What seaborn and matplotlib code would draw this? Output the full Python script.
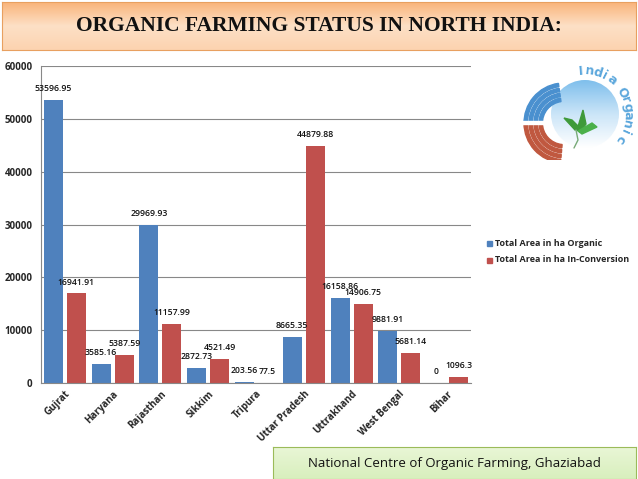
import matplotlib
matplotlib.use("Agg")
import matplotlib.pyplot as plt
import seaborn as sns
import pandas as pd
import numpy as np
from matplotlib.patches import Circle, Wedge, Rectangle, Polygon
from matplotlib.colors import LinearSegmentedColormap

states = ["Gujrat", "Haryana", "Rajasthan", "Sikkim", "Tripura",
          "Uttar Pradesh", "Uttrakhand", "West Bengal", "Bihar"]
organic = [53596.95, 3585.16, 29969.93, 2872.73, 203.56, 8665.35, 16158.86, 9881.91, 0]
conversion = [16941.91, 5387.59, 11157.99, 4521.49, 77.5, 44879.88, 14906.75, 5681.14, 1096.3]
organic_lbl = ["53596.95", "3585.16", "29969.93", "2872.73", "203.56", "8665.35", "16158.86", "9881.91", "0"]
conversion_lbl = ["16941.91", "5387.59", "11157.99", "4521.49", "77.5", "44879.88", "14906.75", "5681.14", "1096.3"]
series = ["Total Area in ha Organic", "Total Area in ha In-Conversion"]
yticks = [0, 10000, 20000, 30000, 40000, 50000, 60000]
title = "ORGANIC FARMING STATUS IN NORTH INDIA:"
footer = "National Centre of Organic Farming, Ghaziabad"
logo_text = "India Organic"

df = pd.DataFrame({
    "State": states * 2,
    "Area": organic + conversion,
    "Series": [series[0]] * len(states) + [series[1]] * len(states),
})

sns.set_style("white")
plt.rcParams["font.family"] = ["Open Sans", "DejaVu Sans"]

W, H = 638, 479
fig = plt.figure(figsize=(W / 100, H / 100), dpi=100)

# title banner
bax = fig.add_axes([2 / W, 1 - 50 / H, 634 / W, 48 / H])
grad = np.linspace(0, 1, 100).reshape(-1, 1)
cm = LinearSegmentedColormap.from_list("b", ["#f9b47a", "#fde0c6", "#fcd3b0"])
bax.imshow(grad, aspect="auto", cmap=cm, extent=[0, 1, 0, 1])
bax.set_xlim(0, 1); bax.set_ylim(0, 1)
bax.text(0.5, 0.5, title, ha="center", va="center", fontsize=15.5,
         fontweight="bold", family="Liberation Serif", color="#111111")
for s in bax.spines.values():
    s.set_color("#e8a060")
bax.set_xticks([]); bax.set_yticks([])

# main chart
ax = fig.add_axes([41 / W, 1 - 383 / H, (471 - 41) / W, (383 - 66) / H])
palette = ["#4f81bd", "#c0504d"]
sns.barplot(data=df, x="State", y="Area", hue="Series", palette=palette,
            width=0.96, gap=0.17, ax=ax, legend=False, saturation=1, linewidth=0)
ax.set_ylim(0, 60000)
ax.set_yticks(yticks)
ax.set_yticklabels([str(v) for v in yticks], fontsize=7, fontweight="bold")
ax.set_xlim(-0.5, len(states) - 0.5)
ax.set_xlabel(""); ax.set_ylabel("")
ax.grid(axis="y", color="#888888", linewidth=0.8)
ax.set_axisbelow(True)
for s in ["top", "right"]:
    ax.spines[s].set_visible(False)
for s in ["left", "bottom"]:
    ax.spines[s].set_color("#888888")
ax.set_xticks(range(len(states)))
ax.set_xticklabels(states, rotation=45, ha="right", rotation_mode="anchor",
                   fontsize=7, fontweight="bold")
ax.tick_params(axis="x", length=0, pad=4)
ax.set_xticks(np.arange(-0.5, len(states), 1), minor=True)
ax.tick_params(axis="x", which="minor", length=4, color="#888888")
ax.tick_params(axis="y", length=4, color="#888888", pad=2)

for cont, lbls in zip(ax.containers, [organic_lbl, conversion_lbl]):
    for bar, lab in zip(cont, lbls):
        x = bar.get_x() + bar.get_width() / 2
        h = bar.get_height()
        ax.text(x, h + 1300, lab, ha="center", va="bottom", fontsize=6.2,
                fontweight="semibold", color="#111111")

# legend
for i, (name, c) in enumerate(zip(series, palette)):
    y = 1 - (243 + i * 17) / H
    fig.patches.append(Rectangle((487 / W, y - 2.5 / H), 5 / W, 5 / H,
                                 transform=fig.transFigure, color=c))
    fig.text(495 / W, y, name, fontsize=6.5, fontweight="bold", va="center")

# logo (simplified), in pixel coordinates (y down)
x0, x1, y0, y1 = 505, 638, 55, 160
lax = fig.add_axes([x0 / W, 1 - y1 / H, (x1 - x0) / W, (y1 - y0) / H])
lax.set_xlim(x0, x1); lax.set_ylim(y1, y0)
lax.axis("off")
cx, cy, r = 585, 114, 34
circ = Circle((cx, cy), r, transform=lax.transData, facecolor="none", edgecolor="none")
lax.add_patch(circ)
cmc = LinearSegmentedColormap.from_list("c", ["#7fbfec", "#cbe5f8", "#ffffff"])
img = lax.imshow(np.linspace(0, 1, 100).reshape(-1, 1), cmap=cmc, aspect="auto",
                 extent=[cx - r, cx + r, cy + r, cy - r], zorder=1)
img.set_clip_path(circ)
acx, acy = 564, 123
for rr in [40, 35, 30, 25]:
    lax.add_patch(Wedge((acx, acy), rr, 178, 262, width=3.4, color="#4a90cf", zorder=2))
    lax.add_patch(Wedge((acx, acy), rr, 95, 180, width=3.4, color="#c0583f", zorder=2))
lax.add_patch(Rectangle((520, 121), 25, 3, color="white", zorder=3))
lax.add_patch(Polygon([[575, 130], [564, 118], [572, 120], [580, 128]], color="#3f9a3a", zorder=4))
lax.add_patch(Polygon([[577, 130], [583, 110], [586, 124], [580, 132]], color="#3f9a3a", zorder=4))
lax.add_patch(Polygon([[578, 131], [592, 123], [597, 127], [582, 134]], color="#4bb04a", zorder=4))
lax.plot([576, 578, 574], [130, 140, 148], color="#7a7", lw=1, zorder=4)
# curved logo text
R = 43
angs = np.linspace(95, -35, len(logo_text))
for ch, a in zip(logo_text, angs):
    t = np.deg2rad(a)
    lax.text(cx + R * np.cos(t), cy - R * np.sin(t), ch, rotation=a - 90,
             ha="center", va="center", fontsize=9, fontweight="bold",
             color="#5ba7dc", family="DejaVu Sans", zorder=5)

# footer box
fax = fig.add_axes([273 / W, 0, 363 / W, 32 / H])
cmf = LinearSegmentedColormap.from_list("f", ["#e9f6d6", "#d8efbd"])
fax.imshow(np.linspace(0, 1, 100).reshape(-1, 1), aspect="auto", cmap=cmf, extent=[0, 1, 0, 1])
fax.set_xlim(0, 1); fax.set_ylim(0, 1)
fax.text(0.5, 0.5, footer, ha="center", va="center", fontsize=9.5, color="#111111")
for s in fax.spines.values():
    s.set_color("#9bbb59")
fax.set_xticks([]); fax.set_yticks([])

fig.savefig("out.png", dpi=100)
